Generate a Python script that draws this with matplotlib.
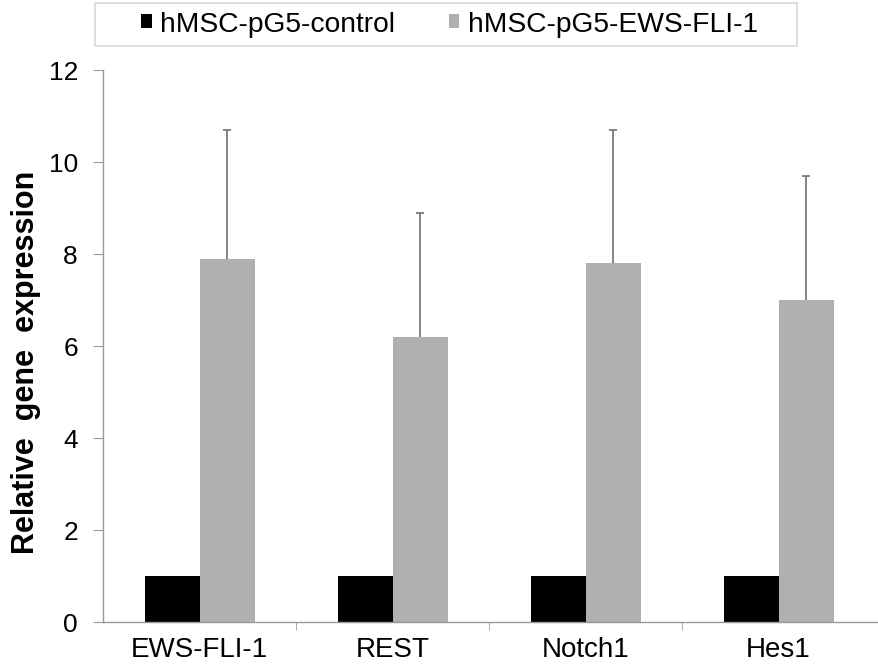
import matplotlib
matplotlib.use("Agg")
import matplotlib.pyplot as plt
from matplotlib.patches import Rectangle
import numpy as np

plt.rcParams['font.family'] = ['Liberation Sans', 'DejaVu Sans']

categories = ["EWS-FLI-1", "REST", "Notch1", "Hes1"]
control = [1.0, 1.0, 1.0, 1.0]
ews = [7.9, 6.2, 7.8, 7.0]
ews_err = [2.8, 2.7, 2.9, 2.7]
yticks = [0, 2, 4, 6, 8, 10, 12]

W, H = 879, 671
fig = plt.figure(figsize=(W/100, H/100), dpi=100)
ax = fig.add_axes([103/W, 1-622/H, 1-103/W, (622-70)/H])

x = np.arange(len(categories))
w = 0.285
ax.bar(x - w/2, control, w, color='black', label='hMSC-pG5-control', zorder=2)
ax.bar(x + w/2, ews, w, color='#b0b0b0', label='hMSC-pG5-EWS-FLI-1', zorder=2)
tops = np.array(ews) + np.array(ews_err)
ax.vlines(x + w/2, ews, tops, color='#707070', linewidth=1.2, zorder=3)
ax.plot(x + w/2, tops, linestyle='none', marker='_', markersize=6,
        markeredgewidth=1.2, color='#707070', zorder=3)

ax.set_xlim(-0.5, len(categories) - 0.5 + 0.02)
ax.set_ylim(0, 12)
ax.set_yticks(yticks)
ax.set_yticklabels([str(t) for t in yticks], fontsize=19)
ax.set_xticks(x)
ax.set_xticklabels(categories, fontsize=20)
ax.tick_params(axis='x', which='major', length=0, pad=11)
ax.set_xticks(np.arange(len(categories) - 1) + 0.5, minor=True)
ax.tick_params(axis='x', which='minor', length=6, direction='out', color='#999999')
ax.tick_params(axis='y', length=7, direction='out', color='#999999', pad=11)

for s in ['top', 'right']:
    ax.spines[s].set_visible(False)
for s in ['left', 'bottom']:
    ax.spines[s].set_color('#999999')
    ax.spines[s].set_linewidth(1)

ax.set_ylabel("Relative  gene  expression", fontsize=22, fontweight='bold')
ax.yaxis.set_label_coords((41 - 103) / 776, (622 - 362) / 552)

# legend box
fig.patches.append(Rectangle((95/W, 1 - 46/H), (797-95)/W, (46-3)/H,
                             transform=fig.transFigure, facecolor='white',
                             edgecolor='#d8d8d8', linewidth=1.2))
leg = fig.legend(loc='center left', bbox_to_anchor=(141/W, 1 - 24.5/H), ncol=2,
                 fontsize=20.3, frameon=False, handlelength=0.38,
                 handleheight=0.38, handletextpad=0.3, columnspacing=1.9,
                 borderpad=0, borderaxespad=0)

fig.savefig("out.png", dpi=100)
